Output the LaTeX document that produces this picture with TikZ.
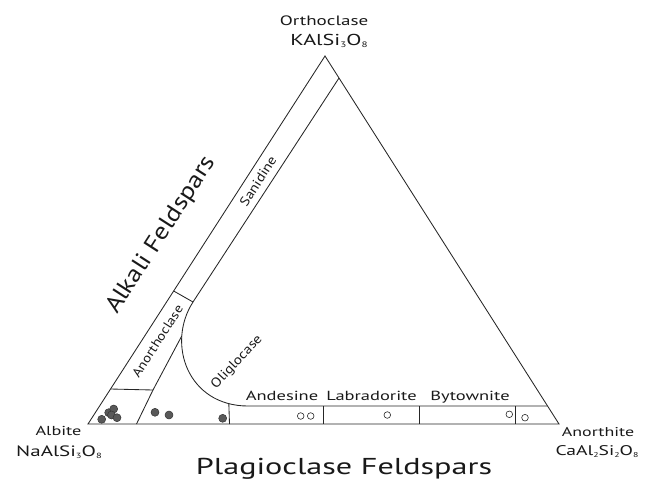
\documentclass[tikz,border=0pt]{standalone}
\usepackage{fontspec}
\setmainfont{PT Sans}
\newfontfamily\hf[FakeStretch=1.4]{PT Sans}
\newfontfamily\rf[FakeStretch=1.15]{PT Sans}
\newcommand\sbs[1]{\raisebox{-0.3ex}{\scalebox{0.5}{#1}}}
\begin{document}
\begin{tikzpicture}[x=1pt,y=-1pt,
  ln/.style={line width=0.85pt,draw=black!85},
  fdot/.style={circle,draw=black!80,fill=black!65,line width=0.5pt,minimum size=8pt,inner sep=0pt},
  odot/.style={circle,draw=black!85,fill=white,line width=0.6pt,minimum size=6.6pt,inner sep=0pt},
  lbl/.style={inner sep=0pt,text=black!90},
]
\useasboundingbox (0,0) rectangle (657,480);
% corners
\coordinate (O) at (325,56);
\coordinate (Ab) at (88,424);
\coordinate (An) at (559,424);
\coordinate (S1) at (339,78);
\coordinate (S2) at (193,302);
\coordinate (D1) at (173.7,291);
\coordinate (C2) at (248,406);
\coordinate (R1) at (547.6,406);
\coordinate (H1) at (110.5,389);
\coordinate (J) at (153,390);
\coordinate (JB) at (136.5,424);
\coordinate (VB) at (229.5,424);
% triangle
\draw[ln,line join=miter] (O) -- (Ab) -- (An) -- cycle;
% sanidine strip and curve
\draw[ln] (S1) -- (S2)
  .. controls (166,344) and (188,406) .. coordinate[pos=0.25] (CJ) coordinate[pos=0.885] (CV) (C2) -- (R1);
\draw[ln] (D1) -- (S2);
% anorthoclase bottom
\draw[ln] (H1) -- (J) -- (CJ);
\draw[ln] (J) -- (JB);
\draw[ln] (CV) -- (VB);
% plagioclase strip dividers
\foreach \x/\n in {323.5/a,419.5/b,515/c}{
  \coordinate (T\n) at (\x,406);
  \coordinate (B\n) at (\x,424);
  \draw[ln] (T\n) -- (B\n);
}
% filled dots
\node[fdot] (f1) at (101.7,419.3) {};
\node[fdot] (f2) at (108.7,412.7) {};
\node[fdot] (f3) at (113.7,409) {};
\node[fdot] (f4) at (111.5,415) {};
\node[fdot] (f5) at (117,417.7) {};
\node[fdot] (f6) at (155,412.3) {};
\node[fdot] (f7) at (169,415) {};
\node[fdot] (f8) at (222.7,418.3) {};
% open circles
\node[odot] (o1) at (300.7,416) {};
\node[odot] (o2) at (310.7,416) {};
\node[odot] (o3) at (387.3,415) {};
\node[odot] (o4) at (509.3,414.3) {};
\node[odot] (o5) at (525,417.7) {};
% labels
\node[lbl,font=\hf\fontsize{13.6}{14}\selectfont] (orth) at (324,21) {Orthoclase};
\node[lbl,font=\hf\fontsize{15.8}{17}\selectfont] (orthf) at (329,41) {KAlSi\sbs{3}O\sbs{8}};
\node[lbl,font=\hf\fontsize{13}{14}\selectfont] (alb) at (58.5,431) {Albite};
\node[lbl,font=\hf\fontsize{15}{16}\selectfont] (albf) at (59,452) {NaAlSi\sbs{3}O\sbs{8}};
\node[lbl,font=\hf\fontsize{12.8}{14}\selectfont] (ano) at (598,432) {Anorthite};
\node[lbl,font=\hf\fontsize{14}{15}\selectfont] (anof) at (597,451.5) {CaAl\sbs{2}Si\sbs{2}O\sbs{8}};
\node[lbl,anchor=base,font=\hf\fontsize{23}{24}\selectfont] (plag) at (344,474.5) {Plagioclase Feldspars};
\node[lbl,anchor=base,font=\hf\fontsize{13.2}{14}\selectfont] (and) at (282,400) {Andesine};
\node[lbl,anchor=base,font=\hf\fontsize{13.2}{14}\selectfont] (lab) at (371.5,400) {Labradorite};
\node[lbl,anchor=base,font=\hf\fontsize{13.2}{14}\selectfont] (byt) at (470,400) {Bytownite};
\node[lbl,rotate=57.2,font=\rf\fontsize{23.5}{25}\selectfont] (alk) at (161.5,235) {Alkali Feldspars};
\node[lbl,rotate=57.2,font=\rf\fontsize{13.2}{14}\selectfont] (san) at (258,181) {Sanidine};
\node[lbl,rotate=57.2,font=\rf\fontsize{12.8}{14}\selectfont] (anc) at (157.5,341) {Anorthoclase};
\node[lbl,rotate=47,font=\rf\fontsize{13.2}{14}\selectfont] (oli) at (237,362) {Oliglocase};
\end{tikzpicture}
\end{document}
